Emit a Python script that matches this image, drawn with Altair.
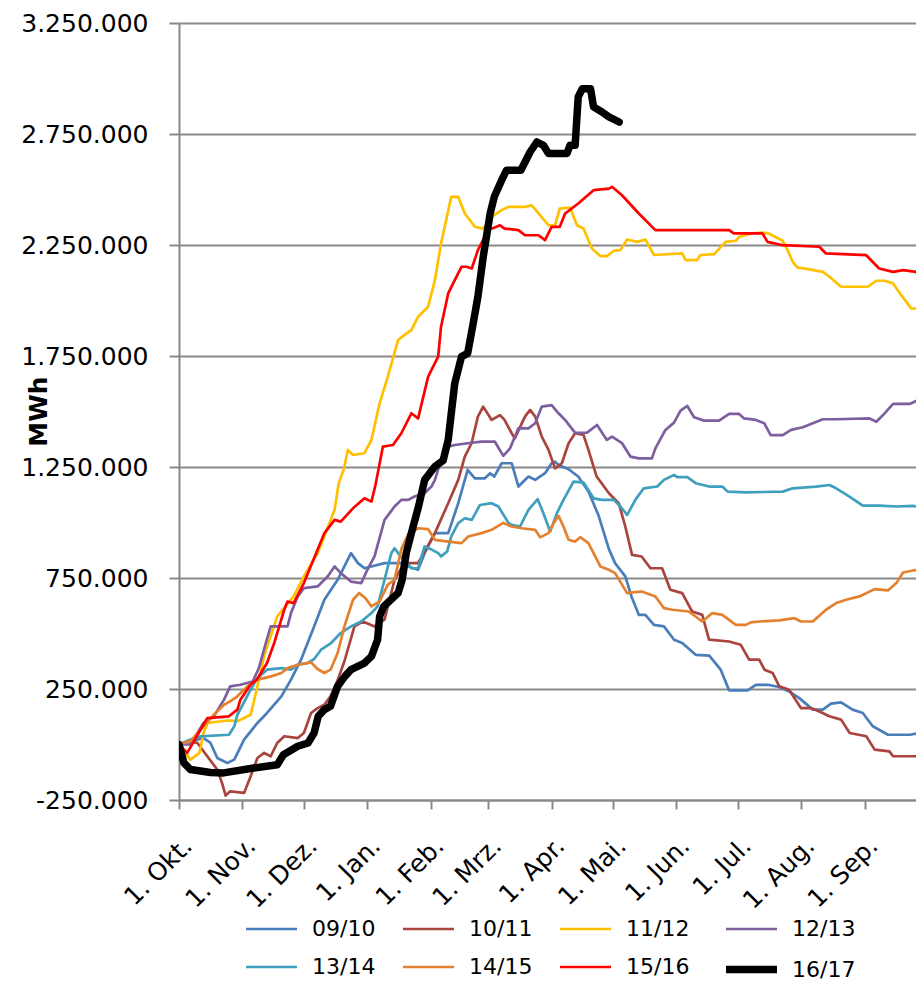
import altair as alt
import pandas as pd

SERIES = ["09/10", "10/11", "11/12", "12/13", "13/14", "14/15", "15/16", "16/17"]
COLORS = ["#4A7EBB", "#A9443F", "#FFC000", "#7D5FA0", "#3EA0BC", "#E4812F", "#FF0000", "#000000"]
WIDTHS = [2.7, 2.7, 2.7, 2.7, 2.7, 2.7, 2.7, 7.5]

MONTH_DAYS = [0, 31, 61, 92, 123, 151, 182, 212, 243, 273, 304, 335]
MONTH_LABELS = ["1. Okt.", "1. Nov.", "1. Dez.", "1. Jan.", "1. Feb.", "1. Mrz.",
                "1. Apr.", "1. Mai.", "1. Jun.", "1. Jul.", "1. Aug.", "1. Sep."]
Y_TICKS = [-250000, 250000, 750000, 1250000, 1750000, 2250000, 2750000, 3250000]

# day offset since 1 Oct, value in thousand MWh
DAYS_0910 = [0, 6, 12, 15.4, 18.7, 23.6, 27, 31.8, 38.3, 43, 50, 54.7, 59.6, 66, 71, 77.5, 84, 87.4, 90.6, 94,
             100.4, 108.6, 112, 116.8, 120, 125, 131.5, 136.4, 141, 144.5, 149.4, 152, 154, 157.6, 162.5, 165.8,
             170.7, 174, 178.8, 182, 183.7, 185.4, 190.3, 195, 200, 205, 210, 213, 218, 221, 224.6, 227.8, 232,
             236.9, 241.8, 245.8, 252.4, 259, 264.6, 268.7, 277.7, 281.8, 287.5, 293.2, 298, 303, 309.6, 314.5,
             318.5, 323.4, 329, 334, 338.9, 346.3, 357, 361.8, 365]
K_0910 = [0, 15, 29, 7, -61, -83, -68, 22, 97, 142, 217, 292, 382, 532, 652, 742, 862, 817, 794, 802,
          817, 817, 802, 787, 862, 952, 952, 1087, 1237, 1199, 1199, 1222, 1207, 1267, 1267, 1162,
          1207, 1192, 1222, 1267, 1274, 1259, 1240, 1207, 1140, 1030, 880, 817, 757, 667, 584, 584, 539,
          532, 472, 457, 404, 400, 337, 244, 244, 269, 269, 259, 239, 209, 157, 157,
          184, 190, 157, 142, 82, 44, 44, 52, 112]

DAYS_1011 = [0, 4, 9, 13.8, 18.7, 21, 22.8, 25, 31.8, 35, 38.3, 41.6, 44.8, 48, 51.4, 58, 61, 64.5, 67.7, 71,
             74, 77.5, 80.8, 85.7, 89.8, 95.5, 100.4, 102, 105.3, 110, 116.8, 125, 131.5, 136.4, 139.6, 142.9,
             146, 148.6, 152.7, 156.8, 159, 162.5, 164, 169, 171.5, 174, 177.2, 180.5, 183.7, 187, 190.3, 193.5,
             197.6, 200, 204, 210, 214.8, 218, 221.3, 226, 230.3, 236, 240, 245.8, 250.7, 255.6, 258.9, 268.7,
             274.4, 278.5, 283.4, 286, 290, 293.2, 298, 303.8, 308.7, 312.8, 317.7, 323.4, 327.6, 335.7, 339.8,
             347, 348.8, 361.8, 365]
K_1011 = [0, 14, 7, -53, -113, -173, -230, -211, -218, -143, -61, -38, -53, 7, 37, 29, 52, 142, 164, 179,
          217, 290, 375, 532, 554, 532, 562, 622, 742, 817, 817, 952, 1087, 1192, 1297, 1357,
          1477, 1522, 1462, 1484, 1462, 1402, 1379, 1477, 1507, 1477, 1387, 1327, 1244, 1267, 1357, 1402,
          1394, 1327, 1207, 1132, 1087, 982, 854, 847, 794, 794, 697, 682, 599, 584, 472, 464,
          449, 382, 382, 337, 322, 262, 247, 164, 164, 149, 127, 112, 52, 37, -23,
          -31, -53, -53, -106]

DAYS_1112 = [0, 5.6, 10, 12, 14, 23.6, 28.5, 35, 38.3, 41.6, 48, 56, 61, 67.7, 71, 76, 78, 80.5, 82.5, 85, 90.6,
             94, 98, 102, 107, 110, 113.5, 116.8, 121.7, 125, 128, 133, 136.4, 139.6, 144.5, 148.6, 152.7,
             157.6, 161, 169, 172.3, 175.6, 180.5, 183.7, 186, 191, 194.4, 197.6, 201.7, 205.8, 209, 212.4,
             215.6, 218.9, 223.8, 227.8, 232, 245.8, 247.5, 253, 254.8, 261.4, 267, 272, 273.6, 280, 285, 288,
             294.9, 297.3, 299.8, 302, 308, 314.5, 317.7, 323.4, 336.5, 340.6, 344.7, 348.8, 352.8, 357.7,
             361.8, 364.3]
K_1112 = [0, -68, -38, 52, 97, 108, 105, 134, 262, 400, 577, 667, 757, 862, 937, 1057, 1177, 1240, 1327, 1304, 1312,
          1372, 1537, 1657, 1822, 1844, 1867, 1927, 1972, 2092, 2257, 2467, 2467, 2392, 2332, 2324, 2377,
          2407, 2422, 2422, 2429, 2392, 2339, 2339, 2414, 2419, 2339, 2324, 2234, 2200, 2200, 2224,
          2227, 2275, 2264, 2275, 2205, 2212, 2182, 2182, 2205, 2209, 2264, 2269, 2287, 2302, 2306, 2302,
          2269, 2227, 2174, 2149, 2140, 2129, 2107, 2062, 2062, 2089, 2089, 2077, 2024, 1964,
          1964, 1999]

DAYS_1213 = [0, 5.6, 12, 17, 22, 25, 30, 36, 39, 42.4, 44.8, 47.5, 53, 54.7, 58, 61, 67.7, 72.6, 76, 79, 84, 89,
             92, 95.5, 100.4, 105.3, 108.6, 112, 115, 120, 123.3, 125, 128, 131.5, 134.7, 141, 147.8, 154.3,
             158.4, 161.7, 165.8, 170.7, 174, 177.2, 182, 185.4, 188.6, 193.5, 199.3, 204.2, 209, 211.5, 216.4,
             220.5, 224.6, 231, 232.7, 237.6, 241.8, 245, 248.3, 251.6, 256.5, 263.8, 268.7, 273.6, 276, 281.8,
             285.9, 289, 294.9, 299, 304.7, 309.6, 314.5, 321, 337.3, 340.6, 343.9, 348.8, 357, 361.8, 365]
K_1213 = [0, 0, 97, 127, 202, 262, 269, 284, 344, 457, 532, 532, 532, 592, 667, 704, 712, 757, 802, 772, 734, 727,
          787, 847, 1012, 1072, 1102, 1102, 1117, 1132, 1162, 1192, 1280, 1342, 1349, 1357, 1364, 1364,
          1300, 1334, 1425, 1424, 1447, 1522, 1529, 1492, 1462, 1404, 1405, 1439, 1372, 1387, 1357,
          1297, 1289, 1289, 1334, 1417, 1450, 1504, 1525, 1474, 1459, 1459, 1489, 1489, 1469, 1462,
          1447, 1394, 1394, 1417, 1429, 1447, 1465, 1465, 1469, 1454, 1484, 1534, 1534, 1555, 1597]

DAYS_1314 = [0, 5.6, 10.5, 24.4, 27, 28.5, 35, 38.3, 43, 50, 54.7, 58, 62.8, 66, 69.4, 74.3, 79, 84, 89, 94, 97,
             100.4, 103.7, 105.3, 108, 113.5, 116.8, 120, 123, 126.6, 128, 131, 133, 136.4, 139.6, 143, 147,
             152.7, 156, 161, 162.5, 166.6, 170.7, 175.2, 178, 181.3, 184.6, 187.8, 192.7, 197.6, 202.5, 206.6,
             212.4, 215.6, 218.9, 222.9, 227, 233.6, 236.9, 241.8, 243.4, 248.3, 252.4, 259, 265.4, 268, 276.9,
             294.9, 299.8, 311.2, 317.7, 321, 327.5, 334, 342.3, 350.4, 358.6, 361.8, 365]
K_1314 = [0, 22, 37, 44, 82, 134, 247, 299, 337, 344, 337, 360, 367, 385, 427, 457, 502, 532, 554, 592, 622,
          742, 862, 884, 850, 794, 794, 892, 880, 862, 847, 870, 937, 997, 1019, 1012, 1079,
          1087, 1072, 997, 989, 982, 1057, 1105, 1042, 959, 1042, 1102, 1184, 1180, 1109, 1102,
          1102, 1072, 1034, 1102, 1154, 1162, 1192, 1214, 1204, 1204, 1177, 1162, 1162, 1139, 1136,
          1139, 1154, 1162, 1169, 1154, 1117, 1076, 1076, 1072, 1075, 1069, 1072]

DAYS_1415 = [0, 5.6, 12, 17, 22, 25, 28.5, 33.4, 38.3, 45, 50, 53, 58, 64.5, 67.7, 71, 74, 77.5, 80.8, 85, 88,
             91, 94, 98, 102, 105.3, 108.6, 112, 116.8, 121.7, 125, 131.5, 138, 141.3, 147.8, 152.7, 158.4,
             162.5, 167.4, 174, 176.4, 180.5, 183, 185.4, 187.8, 190.3, 193.5, 196, 200, 205.8, 210, 213,
             218.9, 221.3, 226, 232.7, 236.9, 241, 249, 255.6, 260.5, 265.4, 272, 276.9, 279.3, 283.4, 293.2,
             300.6, 303.8, 309.6, 316, 321, 325.9, 332.4, 339.8, 346.3, 350.4, 353.7, 358.6, 365]
K_1415 = [0, 15, 82, 134, 179, 194, 217, 262, 292, 307, 322, 344, 359, 370, 340, 322, 337, 412, 532, 652, 682,
          660, 622, 644, 720, 742, 880, 948, 974, 970, 922, 914, 907, 937, 952, 967, 998,
          982, 974, 967, 933, 952, 997, 1030, 982, 922, 914, 934, 907, 802, 787, 772,
          682, 685, 689, 667, 614, 607, 599, 554, 592, 584, 539, 539, 550, 554, 559,
          569, 554, 554, 607, 637, 652, 667, 700, 694, 727, 775, 784, 790]

DAYS_1516 = [0, 4, 13.8, 24.4, 28.5, 30, 35, 38, 43, 46.5, 51.4, 53, 56, 61, 71, 76, 79, 85, 90.6, 94, 96, 99.6,
             104.5, 108.6, 113.5, 116.8, 121.7, 126.6, 128, 131.5, 134.7, 138, 140.4, 143, 146, 151, 156.8,
             159, 165.8, 169, 175.6, 178.8, 182, 186, 188.6, 195, 202.5, 210, 211.5, 216.4, 224.6, 232.7,
             268.7, 271, 285, 287.5, 294.9, 312.8, 316, 335.7, 342, 348.8, 353.7, 360, 362.6, 365]
K_1516 = [0, -38, 119, 127, 157, 202, 270, 292, 367, 457, 607, 644, 637, 727, 952, 1012, 1004, 1064, 1109, 1094,
          1170, 1342, 1349, 1402, 1492, 1469, 1657, 1747, 1882, 2032, 2092, 2152, 2152, 2144, 2227, 2317,
          2339, 2324, 2317, 2294, 2294, 2272, 2332, 2332, 2392, 2437, 2497, 2504, 2512, 2474, 2392, 2317,
          2317, 2302, 2302, 2264, 2249, 2242, 2212, 2204, 2144, 2129, 2137, 2129, 2092, 2092]

DAYS_1617 = [0, 2.4, 5.6, 15.4, 21.8, 36.5, 48, 51, 58, 63, 66, 68, 71, 74, 77.5, 81, 84, 90.6, 94, 97, 98, 100,
             107, 109, 111, 113.5, 117, 120, 125, 129, 131.5, 134.7, 138, 141, 143.7, 146, 148.6, 152, 154,
             157.6, 160, 167, 171.5, 174.8, 178, 180.5, 189.5, 191, 193.5, 195, 197, 201, 202.5, 206.6, 210, 215]
K_1617 = [0, -83, -113, -126, -128, -106, -91, -46, -8, 7, 52, 127, 157, 172, 262, 307, 337, 367, 397, 472, 577,
          622, 682, 742, 862, 952, 1072, 1192, 1252, 1279, 1372, 1627, 1747, 1762, 1897, 2017, 2197, 2392, 2467,
          2542, 2587, 2587, 2669, 2714, 2699, 2662, 2662, 2699, 2699, 2917, 2954, 2954, 2872, 2849, 2827, 2804]

DAYS = [DAYS_0910, DAYS_1011, DAYS_1112, DAYS_1213, DAYS_1314, DAYS_1415, DAYS_1516, DAYS_1617]
VALUES_K = [K_0910, K_1011, K_1112, K_1213, K_1314, K_1415, K_1516, K_1617]

rows = []
for name, ds, vs in zip(SERIES, DAYS, VALUES_K):
    for d, v in zip(ds, vs):
        rows.append({"day": d, "mwh": v * 1000, "series": name})
df = pd.DataFrame(rows)

XMAX = 360
FONT = "DejaVu Sans"

label_expr = "''"
for d, lab in reversed(list(zip(MONTH_DAYS, MONTH_LABELS))):
    label_expr = f"datum.value == {d} ? '{lab}' : ({label_expr})"

y_label_expr = ("replace(replace(replace(format(datum.value, ','), ',', '.'), ',', '.'), '\u2212', '-')")

legend = alt.Legend(
    title=None, orient="none", legendX=63, legendY=879, direction="horizontal", columns=4,
    symbolType="stroke", symbolSize=2601, labelFontSize=22, labelFont=FONT, labelColor="#000000",
    labelOffset=11, columnPadding=21, rowPadding=-8, padding=0, labelOverlap=False,
)

enc = dict(
    x=alt.X("day:Q", scale=alt.Scale(domain=[0, XMAX], nice=False, zero=False),
            axis=alt.Axis(values=MONTH_DAYS, labelExpr=label_expr, labelAngle=-45, title=None,
                          grid=False, tickSize=9, labelPadding=24, labelOverlap=False,
                          labelBound=False)),
    y=alt.Y("mwh:Q", scale=alt.Scale(domain=[-250000, 3250000], nice=False, zero=False),
            axis=alt.Axis(values=Y_TICKS, labelExpr=y_label_expr, title="MWh", grid=True,
                          tickSize=10, labelPadding=21, titleX=-128, titleY=388,
                          titleFontWeight="bold", titleFontSize=25, titleFont=FONT,
                          titleColor="#000000", labelOverlap=False)),
    color=alt.Color("series:N", scale=alt.Scale(domain=SERIES, range=COLORS), legend=legend),
    strokeWidth=alt.StrokeWidth("series:N",
                                scale=alt.Scale(type="ordinal", domain=SERIES, range=WIDTHS),
                                legend=legend),
)

others = alt.Chart(df[df["series"] != "16/17"]).mark_line(
    strokeJoin="round", strokeCap="round", clip=True).encode(**enc)
black = alt.Chart(df[df["series"] == "16/17"]).mark_line(
    strokeJoin="round", strokeCap="round", clip=True).encode(**enc)

chart = alt.layer(others, black).properties(
    width=737, height=777,
    autosize=alt.AutoSizeParams(type="none"),
    padding={"left": 171, "top": 15, "right": 0, "bottom": 183},
).configure_view(strokeWidth=0).configure_axis(
    domainColor="#898989", domainWidth=2, tickColor="#898989", tickWidth=2,
    gridColor="#898989", gridWidth=2, labelFont=FONT, labelFontSize=25, labelColor="#000000",
)

chart.save("out.html", embed_options={"renderer": "svg", "actions": False})
